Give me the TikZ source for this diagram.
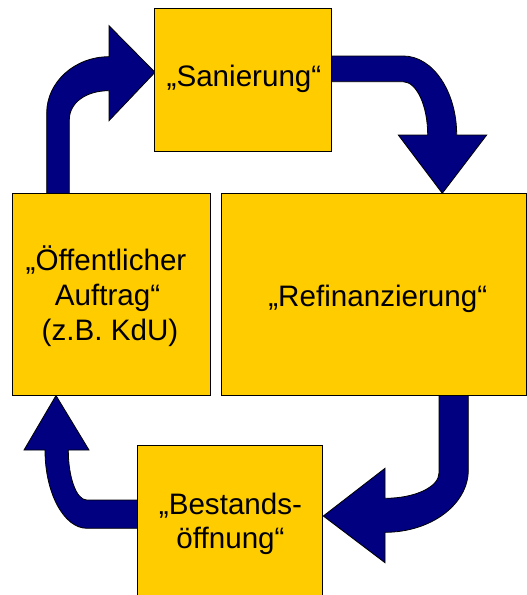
\documentclass[tikz,border=0pt]{standalone}
\usepackage{fontspec}
\setmainfont{Liberation Sans}
\definecolor{boxfill}{HTML}{FFCC00}
\definecolor{arrowfill}{HTML}{000080}
\begin{document}
\begin{tikzpicture}[x=1pt,y=-1pt,
  box/.style={draw=black, line width=1pt, fill=boxfill, rectangle, inner sep=0pt},
  lbl/.style={font=\fontsize{29.6}{35}\selectfont, text=black, inner sep=0pt, align=center, anchor=base},
  blockarrow/.style={fill=arrowfill, draw=black, line width=0.8pt, line join=miter}]
\useasboundingbox (0,0) rectangle (527,595);
\clip (0,0) rectangle (527,595);

% arrow: Oeffentlicher Auftrag -> Sanierung
\draw[blockarrow] (46.7,194) -- (46.7,113)
  .. controls (46.7,82) and (74.8,56.7) .. (109,56.7)
  -- (109,25.7) -- (155,72.3) -- (109,120.7) -- (109,90.7)
  .. controls (86,90.7) and (69.3,102.6) .. (69.3,120)
  -- (69.3,194) -- cycle;

% arrow: Sanierung -> Refinanzierung
\draw[blockarrow] (331,56) -- (403.3,56)
  .. controls (432.8,56) and (456.7,91.4) .. (456.7,135)
  -- (486.7,135) -- (442.3,193.3) -- (398.3,135) -- (427.7,135)
  .. controls (427.7,105.6) and (416.6,81.7) .. (403,81.7)
  -- (331,81.7) -- cycle;

% arrow: Refinanzierung -> Bestandsoeffnung
\draw[blockarrow] (439,394) -- (439,473)
  .. controls (439,487) and (414.8,498.3) .. (385,498.3)
  -- (385,468.3) -- (323.3,516) -- (385,562.7) -- (385,532.3)
  .. controls (431,532.3) and (468.3,504.4) .. (468.3,470)
  -- (468.3,394) -- cycle;

% arrow: Bestandsoeffnung -> Oeffentlicher Auftrag
\draw[blockarrow] (138.5,500) -- (86.7,500)
  .. controls (76.5,500) and (68.3,477.6) .. (68.3,450)
  -- (89,450) -- (56,395.5) -- (24,450) -- (45,450)
  .. controls (45,493) and (63.8,528.3) .. (87,528.3)
  -- (138.5,528.3) -- cycle;

% boxes
\node[box, minimum width=176.7pt, minimum height=142.7pt] (san) at (243.3,80.3) {};
\node[box, minimum width=198.4pt, minimum height=201.7pt] (oeff) at (111.5,294.2) {};
\node[box, minimum width=304.6pt, minimum height=201.7pt] (refi) at (374,294.2) {};
\node[box, minimum width=185pt, minimum height=152pt] (best) at (230.2,521.7) {};

% labels
\node[lbl] (sanl) at (244,86.7) {„Sanierung“};
\node[lbl] (refil) at (377.8,306.7) {„Refinanzierung“};
\node[lbl] (oeffl) at (110,340) {„Öffentlicher\rule{8pt}{0pt}\\Auftrag“\rule{5pt}{0pt}\\(z.B. KdU)};
\node[lbl, font=\fontsize{29.6}{33.5}\selectfont] (bestl) at (230.5,548.3) {„Bestands-\\öffnung“};
\end{tikzpicture}
\end{document}
